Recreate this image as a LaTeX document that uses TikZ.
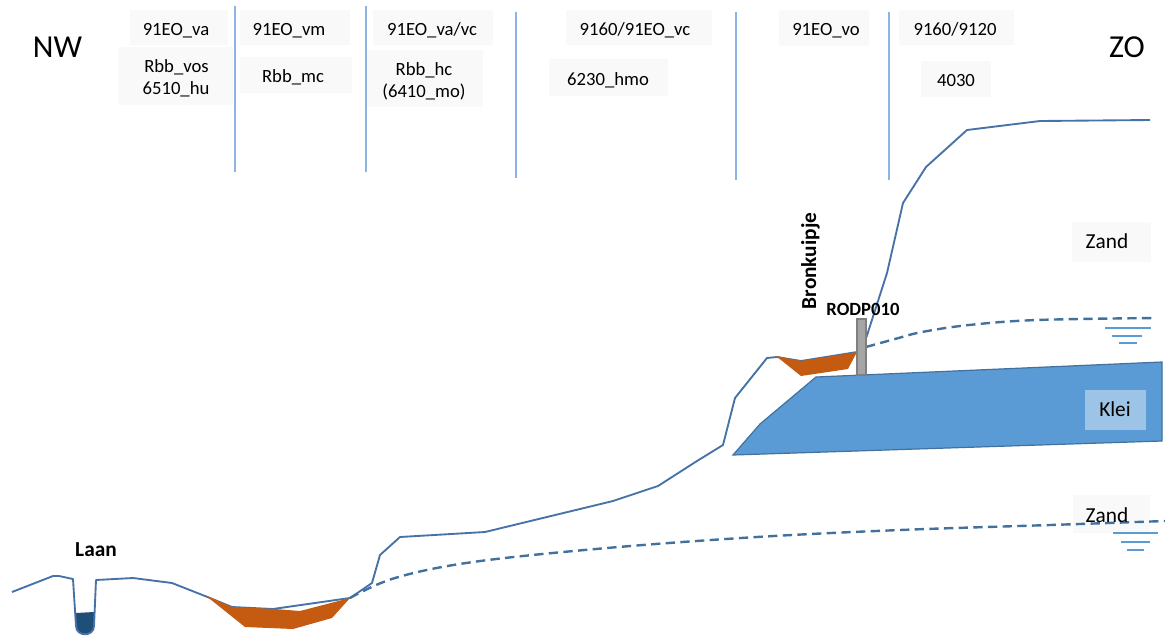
\documentclass[tikz,border=0pt]{standalone}
\usepackage{fontspec}
\setmainfont{Carlito}
\definecolor{terrain}{HTML}{4672A8}
\definecolor{waterln}{HTML}{41719C}
\definecolor{sepline}{HTML}{8DB3E2}
\definecolor{peat}{HTML}{C55A11}
\definecolor{clay}{HTML}{5B9BD5}
\definecolor{clayedge}{HTML}{41719C}
\definecolor{claytag}{HTML}{9DC3E6}
\definecolor{boxbg}{HTML}{F9F9F9}
\definecolor{ditch}{HTML}{1F4E79}
\definecolor{pipefill}{HTML}{A5A5A5}
\definecolor{pipeedge}{HTML}{7F7F7F}
\definecolor{wlevel}{HTML}{5B9BD5}
\begin{document}
\begin{tikzpicture}[x=0.75pt,y=-0.75pt,
  lbl/.style={font=\fontsize{14}{16.8}\selectfont, anchor=base, inner sep=0pt},
  compass/.style={font=\fontsize{24}{28}\selectfont, anchor=base, inner sep=0pt},
  soil/.style={font=\fontsize{16}{19}\selectfont, anchor=base, inner sep=0pt},
  tagb/.style={font=\fontsize{16}{19}\selectfont\bfseries, anchor=base, inner sep=0pt},
  tagsmall/.style={font=\fontsize{14}{16.8}\selectfont\bfseries, anchor=base, inner sep=0pt},
  zone/.style={draw=sepline, line width=0.8pt},
  labelbg/.style={fill=boxbg},
  ground/.style={draw=terrain, line width=1.4pt, line join=round},
  phreatic/.style={draw=waterln, line width=1.8pt, dash pattern=on 7pt off 4pt},
  levelmark/.style={draw=wlevel, line width=0.9pt},
  peatbody/.style={fill=peat},
]
\useasboundingbox (0,0) rectangle (1165,637);

% vegetation zone separators
\draw[zone] (235,6) -- (235,172);
\draw[zone] (366,6) -- (366,172);
\draw[zone] (516,12) -- (516,178);
\draw[zone] (736,12) -- (736,180);
\draw[zone] (889,12) -- (889,180);

% label backgrounds
\fill[labelbg] (130,10) rectangle (228,45);
\fill[labelbg] (118,47) rectangle (233,105);
\fill[labelbg] (240,10) rectangle (350,45);
\fill[labelbg] (240,57) rectangle (352,93);
\fill[labelbg] (373,10) rectangle (493,45);
\fill[labelbg] (367,50) rectangle (483,107);
\fill[labelbg] (566,10) rectangle (712,45);
\fill[labelbg] (549,59) rectangle (668,96);
\fill[labelbg] (779,10) rectangle (869,46);
\fill[labelbg] (899,10) rectangle (1014,45);
\fill[labelbg] (921,61) rectangle (991,97);
\fill[labelbg] (1072,222) rectangle (1151,262);
\fill[labelbg] (1073,495) rectangle (1150,533);

% groundwater levels
\draw[phreatic] plot[smooth, tension=0.6] coordinates {(350,598) (395,578) (473,562) (607,548) (757,537) (900,530) (1050,525) (1165,521)};
\draw[phreatic] plot[smooth, tension=0.6] coordinates {(866,347) (895,339) (922,332) (969,325) (1037,320) (1155,318)};

% clay layer
\draw[fill=clay, draw=clayedge, line width=0.9pt] (733,455) -- (760,424) -- (816,377) -- (1162,362) -- (1162,441) -- cycle;
\fill[claytag] (1085,390) rectangle (1146,430);

% ditch water
\fill[ditch] (76,613) -- (76,626) .. controls (76,637) and (94,637) .. (94,626) -- (94,612) -- cycle;

% ground surface
\draw[ground] (12,592) -- (53,576) -- (59,576) -- (73,579) -- (76,626)
  .. controls (76,637) and (94,637) .. (94,626) -- (96,580) -- (133,578)
  -- (172,583) -- (205,596) -- (232,607) -- (273,609) -- (350,598)
  -- (372,583) -- (380,555) -- (400,537) -- (485,532) -- (613,501)
  -- (658,486) -- (697,461) -- (723,445) -- (735,398) -- (767,358)
  -- (777,357) -- (801,361) -- (857,352) -- (862,351) -- (887,273)
  -- (903,203) -- (926,167) -- (967,130) -- (1040,121) -- (1150,120);

% peat bodies
\fill[peatbody] (205,595) -- (232,607) -- (275,609) -- (300,611) -- (350,598)
  -- (332,618) -- (293,629) -- (245,627) -- cycle;
\fill[peatbody] (776,356) -- (801,361) -- (857,352) -- (848,369) -- (801,376) -- cycle;

% piezometer
\draw[fill=pipefill, draw=pipeedge, line width=0.8pt] (857,319) rectangle (866,375);

% water level symbols
\draw[levelmark] (1105,328) -- (1151,328);
\draw[levelmark] (1112,336) -- (1142,336);
\draw[levelmark] (1119,343) -- (1137,343);
\draw[levelmark] (1113,533) -- (1158,533);
\draw[levelmark] (1121,542) -- (1150,542);
\draw[levelmark] (1127,550) -- (1144,550);

% texts
\node[compass] (nw) at (57.5,57) {NW};
\node[compass] (zo) at (1127,57) {ZO};

\node[lbl] (l1) at (176,35) {91EO\_va};
\node[lbl] (l2a) at (176.5,72) {Rbb\_vos};
\node[lbl] (l2b) at (176,94) {6510\_hu};
\node[lbl] (l3) at (289,35) {91EO\_vm};
\node[lbl] (l4) at (293,82) {Rbb\_mc};
\node[lbl] (l5) at (432,35) {91EO\_va/vc};
\node[lbl] (l6a) at (424,75) {Rbb\_hc};
\node[lbl] (l6b) at (424,97) {(6410\_mo)};
\node[lbl] (l7) at (635,35) {9160/91EO\_vc};
\node[lbl] (l8) at (608,85) {6230\_hmo};
\node[lbl] (l9) at (826,35) {91EO\_vo};
\node[lbl] (l10) at (955,35) {9160/9120};
\node[lbl] (l11) at (956,86) {4030};

\node[soil] (zand1) at (1107,248) {Zand};
\node[soil] (klei) at (1115,416) {Klei};
\node[soil] (zand2) at (1107,522) {Zand};

\node[tagb] (laan) at (96,556) {Laan};
\node[tagb, rotate=90] (bron) at (816,261) {Bronkuipje};
\node[tagsmall] (rodp) at (863,315) {RODP010};
\end{tikzpicture}
\end{document}
